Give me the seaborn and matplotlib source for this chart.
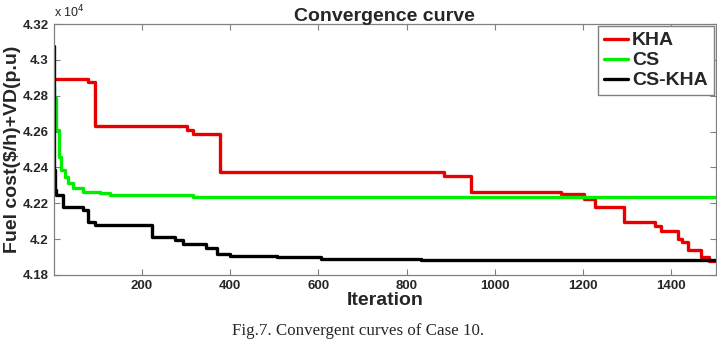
import numpy as np
import pandas as pd
import matplotlib
matplotlib.use("Agg")
import matplotlib.pyplot as plt
import seaborn as sns
from matplotlib.ticker import FuncFormatter, FixedLocator

# ---- data (values in units of 1e4) ----
kha_iter = [1, 78, 95, 302, 316, 377, 884, 945, 1150, 1202, 1227, 1293, 1362, 1377, 1415, 1425, 1438, 1468, 1485, 1500]
kha_val = [4.2892, 4.2878, 4.2631, 4.2609, 4.2587, 4.2376, 4.2350, 4.2263, 4.2252, 4.2224, 4.2180, 4.2096, 4.2074, 4.2046, 4.2001, 4.1985, 4.1940, 4.1900, 4.1880, 4.1880]

cs_iter = [1, 2, 5, 12, 17, 25, 33, 44, 67, 105, 127, 316, 1500]
cs_val = [4.2850, 4.2790, 4.2610, 4.2460, 4.2386, 4.2349, 4.2311, 4.2284, 4.2265, 4.2256, 4.2246, 4.2233, 4.2233]

cskha_iter = [1, 2, 3, 5, 21, 67, 78, 93, 222, 275, 294, 345, 371, 400, 506, 605, 832, 1500]
cskha_val = [4.3080, 4.2386, 4.2274, 4.2246, 4.2180, 4.2165, 4.2098, 4.2079, 4.2011, 4.1996, 4.1971, 4.1949, 4.1917, 4.1904, 4.1899, 4.1889, 4.1882, 4.1882]

series_names = ["KHA", "CS", "CS-KHA"]
x_ticks = [200, 400, 600, 800, 1000, 1200, 1400]
y_ticks = [4.18, 4.20, 4.22, 4.24, 4.26, 4.28, 4.30, 4.32]

df = pd.concat([
    pd.DataFrame({"Iteration": kha_iter, "Cost": kha_val, "Algorithm": series_names[0]}),
    pd.DataFrame({"Iteration": cs_iter, "Cost": cs_val, "Algorithm": series_names[1]}),
    pd.DataFrame({"Iteration": cskha_iter, "Cost": cskha_val, "Algorithm": series_names[2]}),
], ignore_index=True)

sns.set_style("white")
plt.rcParams["font.family"] = ["Liberation Sans", "DejaVu Sans"]

fig = plt.figure(figsize=(7.17, 3.39), dpi=100)
ax = fig.add_axes([0.0753, 0.189, 0.9227, 0.740])

palette = {"KHA": "#e80000", "CS": "#00ee00", "CS-KHA": "#000000"}
sns.lineplot(data=df, x="Iteration", y="Cost", hue="Algorithm", palette=palette,
             hue_order=series_names, drawstyle="steps-post", linewidth=2.4,
             estimator=None, sort=False, ax=ax)

ax.set_xlim(1, 1500)
ax.set_ylim(4.18, 4.32)
ax.xaxis.set_major_locator(FixedLocator(x_ticks))
ax.yaxis.set_major_locator(FixedLocator(y_ticks))
ax.yaxis.set_major_formatter(FuncFormatter(lambda v, p: f"{v:g}"))
ax.tick_params(direction="in", length=4, width=0.8, color="#808080",
               top=True, right=True, bottom=True, left=True, labelsize=9.5, pad=4)
for lab in ax.get_xticklabels() + ax.get_yticklabels():
    lab.set_fontweight("bold")
for sp in ax.spines.values():
    sp.set_color("#808080")
    sp.set_linewidth(0.9)

ax.set_xlabel("Iteration", fontsize=14, fontweight="bold", labelpad=0)
ax.set_ylabel("Fuel cost($/h)+VD(p.u)", fontsize=14, fontweight="bold", labelpad=1)
ax.set_title("Convergence curve", fontsize=14, fontweight="bold", pad=2)
ax.text(0.0, 1.015, "x 10$^{4}$", transform=ax.transAxes, fontsize=9,
        ha="left", va="bottom")

leg = ax.legend(loc="upper right", fontsize=14, frameon=True, fancybox=False,
                framealpha=1, edgecolor="#808080", handlelength=1.25,
                handletextpad=0.2, borderpad=0.3, labelspacing=0.12,
                borderaxespad=0.1, title=None)
for t in leg.get_texts():
    t.set_fontweight("bold")

fig.text(0.5, 0.024, "Fig.7. Convergent curves of Case 10.", ha="center", va="center",
         fontsize=12.2, family=["Liberation Serif", "DejaVu Serif"])

fig.savefig("out.png", dpi=100)
